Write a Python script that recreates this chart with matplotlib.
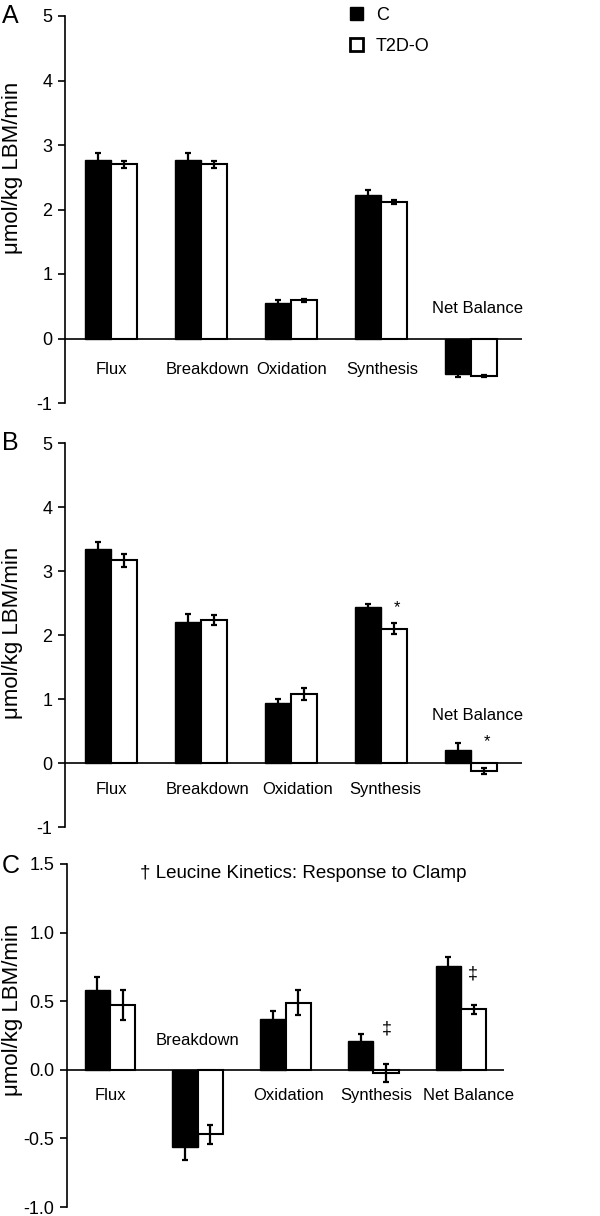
import numpy as np
import matplotlib
matplotlib.use('Agg')
import matplotlib.pyplot as plt
from matplotlib.patches import Patch

plt.rcParams['font.family'] = ['Liberation Sans', 'DejaVu Sans']
plt.rcParams['axes.unicode_minus'] = False

cats = ['Flux', 'Breakdown', 'Oxidation', 'Synthesis', 'Net Balance']

# panel A
a_c = [2.76, 2.76, 0.55, 2.22, -0.55]
a_c_err = [0.11, 0.11, 0.05, 0.09, 0.05]
a_t = [2.70, 2.70, 0.59, 2.12, -0.58]
a_t_err = [0.05, 0.05, 0.02, 0.03, 0.02]

# panel B
b_c = [3.35, 2.21, 0.94, 2.43, 0.21]
b_c_err = [0.10, 0.12, 0.06, 0.06, 0.10]
b_t = [3.17, 2.23, 1.08, 2.10, -0.125]
b_t_err = [0.10, 0.08, 0.09, 0.08, 0.04]

# panel C (response to clamp)
c_c = [0.58, -0.565, 0.37, 0.21, 0.76]
c_c_err = [0.10, 0.09, 0.06, 0.05, 0.06]
c_t = [0.47, -0.47, 0.49, -0.025, 0.44]
c_t_err = [0.11, 0.07, 0.09, 0.065, 0.035]

W, H = 600, 1216
fig = plt.figure(figsize=(6, 12.16), dpi=100)


def make_ax(left, right, top, bottom):
    return fig.add_axes([left / W, 1 - bottom / H, (right - left) / W, (bottom - top) / H])


def draw_bars(ax, c, c_err, t, t_err, bw=0.29):
    x = np.arange(len(cats))
    ax.bar(x - bw / 2, c, bw, color='black', edgecolor='black', linewidth=1, zorder=2)
    ax.bar(x + bw / 2, t, bw, color='white', edgecolor='black', linewidth=1.5, zorder=2)
    ax.errorbar(x - bw / 2, c, yerr=c_err, fmt='none', ecolor='black', elinewidth=1.6,
                capsize=2, capthick=1.6, zorder=3)
    ax.errorbar(x + bw / 2, t, yerr=t_err, fmt='none', ecolor='black', elinewidth=1.6,
                capsize=2, capthick=1.6, zorder=3)
    ax.axhline(0, color='black', lw=1.2, zorder=4)
    for s in ['top', 'right', 'bottom']:
        ax.spines[s].set_visible(False)
    ax.spines['left'].set_linewidth(1.2)
    ax.set_xticks([])
    ax.tick_params(axis='y', direction='out', length=5, width=1.2, labelsize=13, pad=4)


def ylab(y_px):
    fig.text(13 / W, 1 - y_px / H, 'μmol/kg LBM/min', rotation=90, ha='center', va='center',
             fontsize=16)


# ---- A ----
axA = make_ax(65, 522, 16, 403)
draw_bars(axA, a_c, a_c_err, a_t, a_t_err)
axA.set_xlim(-0.511, 4.567)
axA.set_ylim(-1, 5)
axA.set_yticks([-1, 0, 1, 2, 3, 4, 5])
for i, name in enumerate(cats[:4]):
    axA.text(i + [0, 0.07, 0.01, 0.02][i], -0.48, name, ha='center', va='center', fontsize=12)
axA.text(4.07, 0.46, cats[4], ha='center', va='center', fontsize=12)
axA.legend(handles=[Patch(facecolor='black', edgecolor='black'),
                    Patch(facecolor='white', edgecolor='black', linewidth=2)],
           labels=['C', 'T2D-O'], loc='upper left', bbox_to_anchor=(0.607, 1.042),
           frameon=False, fontsize=13, handlelength=0.75, handleheight=0.75,
           handletextpad=0.7, labelspacing=0.75, borderaxespad=0)
fig.text(2 / W, 1 - 16 / H, 'A', fontsize=18, ha='left', va='center')
ylab(168)

# ---- B ----
axB = make_ax(65, 522, 443, 827)
draw_bars(axB, b_c, b_c_err, b_t, b_t_err)
axB.set_xlim(-0.511, 4.567)
axB.set_ylim(-1, 5)
axB.set_yticks([-1, 0, 1, 2, 3, 4, 5])
for i, name in enumerate(cats[:4]):
    axB.text(i + [0, 0.07, 0.07, 0.05][i], -0.42, name, ha='center', va='center', fontsize=12)
axB.text(4.07, 0.75, cats[4], ha='center', va='center', fontsize=12)
axB.text(3 + 0.18, 2.42, '*', ha='center', va='center', fontsize=12)
axB.text(4 + 0.18, 0.34, '*', ha='center', va='center', fontsize=12)
fig.text(2 / W, 1 - 443 / H, 'B', fontsize=18, ha='left', va='center')
ylab(633)

# ---- C ----
axC = make_ax(67, 504, 864, 1207)
draw_bars(axC, c_c, c_c_err, c_t, c_t_err)
axC.set_xlim(-0.49, 4.49)
axC.set_ylim(-1.0, 1.5)
axC.set_yticks([-1.0, -0.5, 0.0, 0.5, 1.0, 1.5])
axC.set_yticklabels(['-1.0', '-0.5', '0.0', '0.5', '1.0', '1.5'])
for i, name in enumerate(cats):
    if i == 1:
        axC.text(i, 0.21, name, ha='center', va='center', fontsize=12)
    else:
        axC.text(i + [0, 0, 0.03, 0.03, 0.08][i], -0.19, name, ha='center', va='center', fontsize=12)
axC.text(3 + 0.16, 0.30, '‡', ha='center', va='center', fontsize=13)
axC.text(4 + 0.13, 0.70, '‡', ha='center', va='center', fontsize=13)
axC.text(2.2, 1.43, '† Leucine Kinetics: Response to Clamp', ha='center', va='center', fontsize=13.5)
fig.text(2 / W, 1 - 866 / H, 'C', fontsize=18, ha='left', va='center')
ylab(1010)

fig.savefig('out.png', dpi=100)
